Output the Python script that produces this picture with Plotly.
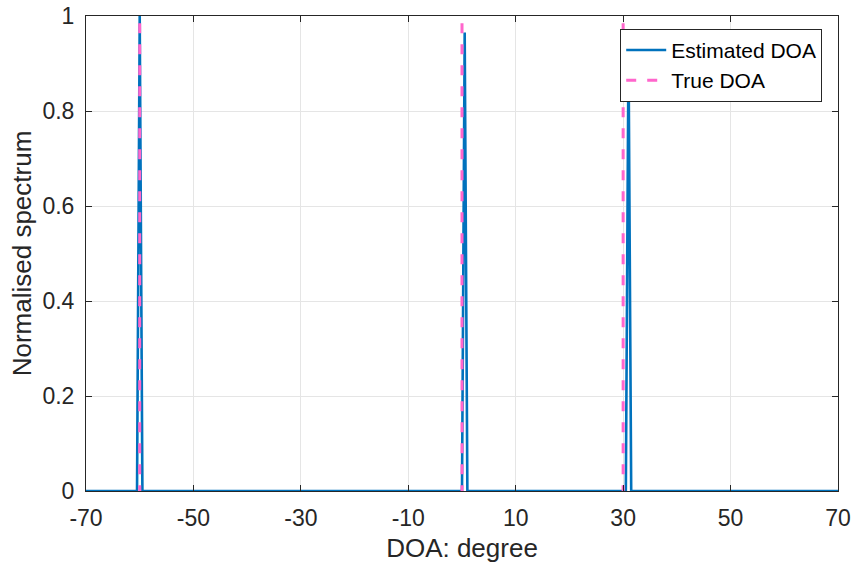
import plotly.graph_objects as go

# Estimated spectrum (sparse: zeros everywhere except peaks)
doa_grid = [-70, -60.5, -60, -59.5, 0, 0.5, 1, 30.5, 31, 31.5, 70]
spectrum = [0, 0, 1.0, 0, 0, 0.965, 0, 0, 0.93, 0, 0]

true_doa = [-60, 0, 30]
true_height = 0.985

x_ticks = [-70, -50, -30, -10, 10, 30, 50, 70]
x_ticktext = ["-70", "-50", "-30", "-10", "10", "30", "50", "70"]
y_ticks = [0, 0.2, 0.4, 0.6, 0.8, 1]
y_ticktext = ["0", "0.2", "0.4", "0.6", "0.8", "1"]

tx, ty = [], []
for d in true_doa:
    tx += [d, d, None]
    ty += [true_height, 0, None]

fig = go.Figure()
fig.add_trace(go.Scatter(x=doa_grid, y=spectrum, mode="lines", name="Estimated DOA",
                         line=dict(color="#0072BD", width=2.6)))
fig.add_trace(go.Scatter(x=tx, y=ty, mode="lines", name="True DOA",
                         line=dict(color="#FF66CC", width=3, dash="10px,11px")))

font_family = "Liberation Sans, Arial, sans-serif"
axis_common = dict(showgrid=True, gridcolor="#E5E5E5", gridwidth=1, zeroline=False,
                   showline=True, linecolor="#262626", linewidth=1, mirror="ticks",
                   ticks="inside", ticklen=6, tickcolor="#262626", automargin=False,
                   ticklabeloverflow="allow",
                   tickfont=dict(family=font_family, size=23, color="#262626"))

fig.update_layout(
    width=854, height=571,
    margin=dict(l=86, r=16, t=16, b=80),
    paper_bgcolor="white", plot_bgcolor="white",
    font=dict(family=font_family, color="#262626"),
    xaxis=dict(range=[-70, 70], tickvals=x_ticks, ticktext=x_ticktext, ticklabelstandoff=6,
               title=dict(text="DOA: degree", font=dict(size=26, color="#262626"), standoff=9),
               **axis_common),
    yaxis=dict(range=[0, 1], tickvals=y_ticks, ticktext=y_ticktext, ticklabelstandoff=6,
               title=dict(text="Normalised spectrum", font=dict(size=26, color="#262626"), standoff=3),
               **axis_common),
    legend=dict(x=0.979, y=0.973, xanchor="right", yanchor="top",
                bgcolor="white", bordercolor="#262626", borderwidth=1,
                font=dict(family=font_family, size=21, color="#000000"),
                tracegroupgap=0, itemwidth=40),
    showlegend=True,
)

# remove the default 8px page margin so the figure sits at the window's origin
fig.write_html("out.html", post_script="document.body.style.margin='0px';",
               config={"displayModeBar": False})
